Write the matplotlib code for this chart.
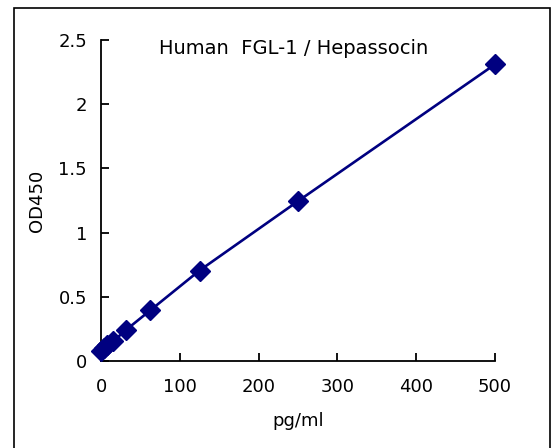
import matplotlib
matplotlib.use("Agg")
import matplotlib.pyplot as plt
import matplotlib.patches as patches


LINE_COLOR = "#000080"

concentration = [0, 3.9, 7.8, 15.6, 31.25, 62.5, 125, 250, 500]
od450 = [0.08, 0.10, 0.125, 0.155, 0.24, 0.395, 0.705, 1.245, 2.31]

x_ticks = [0, 100, 200, 300, 400, 500]
y_ticks = [0, 0.5, 1, 1.5, 2, 2.5]
y_tick_labels = ["0", "0.5", "1", "1.5", "2", "2.5"]

title_text = "Human  FGL-1 / Hepassocin"

plt.rcParams["font.family"] = ["DejaVu Sans"]

fig = plt.figure(figsize=(5.55, 4.48), dpi=100)
ax = fig.add_axes([0.182, 0.194, 0.710, 0.717])

ax.plot(concentration, od450, color=LINE_COLOR, linewidth=1.9,
        marker="D", markersize=10, markerfacecolor=LINE_COLOR,
        markeredgecolor=LINE_COLOR, clip_on=False, zorder=3)

ax.set_xlim(0, 500)
ax.set_ylim(0, 2.5)
ax.set_xticks(x_ticks)
ax.set_yticks(y_ticks)
ax.set_yticklabels(y_tick_labels)

ax.spines["top"].set_visible(False)
ax.spines["right"].set_visible(False)
for side in ("left", "bottom"):
    ax.spines[side].set_linewidth(1.3)

ax.tick_params(axis="both", direction="in", length=6, width=1.3,
               labelsize=13)
ax.tick_params(axis="x", pad=12)
ax.tick_params(axis="y", pad=10)

ax.set_xlabel("pg/ml", fontsize=13, labelpad=12)
ax.set_ylabel("OD450", fontsize=13, labelpad=9)

ax.text(244, 2.43, title_text, fontsize=14, ha="center", va="center")

# outer frame, bottom runs past the picture
frame = patches.Rectangle((14 / 555, -0.1), (550 - 14) / 555,
                          1.1 - 8 / 448, transform=fig.transFigure,
                          fill=False, edgecolor="black", linewidth=1.2)
fig.patches.append(frame)

fig.savefig("out.png", dpi=100)
plt.close(fig)
